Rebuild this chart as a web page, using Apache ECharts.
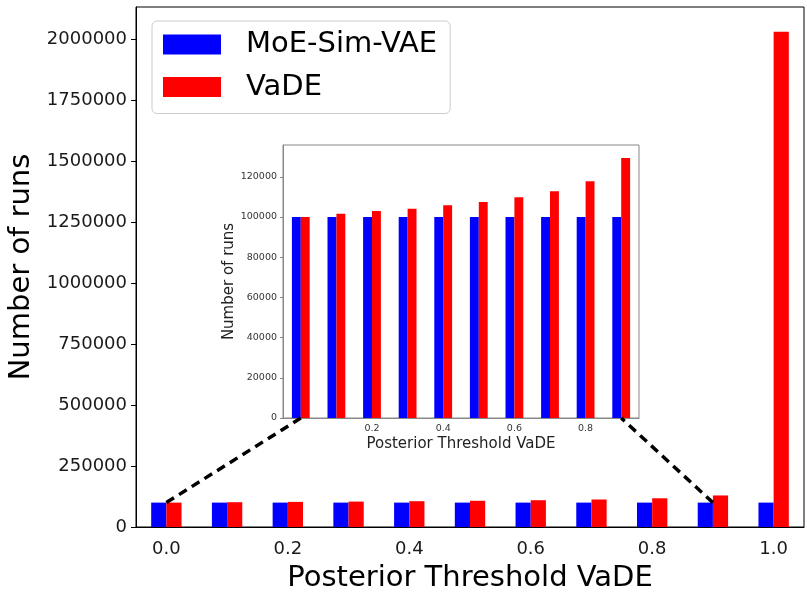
<!DOCTYPE html>
<html><head><meta charset="utf-8">
<script src="https://cdn.jsdelivr.net/npm/echarts@6/dist/echarts.min.js"></script>
<style>html,body{margin:0;padding:0;background:#fff}#c{width:807px;height:597px}</style>
</head><body><div id="c"></div>
<script>
// ---- data ----
const categories = ['0.0','0.1','0.2','0.3','0.4','0.5','0.6','0.7','0.8','0.9','1.0'];
const moeValues  = [100000,100000,100000,100000,100000,100000,100000,100000,100000,100000,100000];
const vadeValues = [100000,101660,102990,104150,105800,107460,109780,112760,117740,129350,2030000];
const mainXTickLabels = ['0.0','0.2','0.4','0.6','0.8','1.0'];
const mainYTicks = [0,250000,500000,750000,1000000,1250000,1500000,1750000,2000000];
const insetCategories = ['0.0','0.1','0.2','0.3','0.4','0.5','0.6','0.7','0.8','0.9'];
const insetMoe  = [100000,100000,100000,100000,100000,100000,100000,100000,100000,100000];
const insetVade = [100000,101660,102990,104150,105800,107460,109780,112760,117740,129350];
const insetXTickLabels = ['0.2','0.4','0.6','0.8'];
const insetYTicks = [0,20000,40000,60000,80000,100000,120000];

const FONT = 'DejaVu Sans';
const chart = echarts.init(document.getElementById('c'), null, {renderer:'canvas'});
const mainMax = Math.max(...vadeValues) * 1.05;
const insetMax = Math.max(...insetVade) * 1.05;
const plain = v => String(Math.round(v));

chart.setOption({
  animation:false,
  backgroundColor:'#fff',
  textStyle:{fontFamily:FONT},
  legend:{
    orient:'vertical', left:152, top:21,
    padding:[9,13,12,11], itemGap:13.5,
    itemWidth:58, itemHeight:20, icon:'rect',
    backgroundColor:'#fff', borderColor:'#cccccc', borderWidth:1, borderRadius:5,
    textStyle:{fontFamily:FONT, fontSize:29, color:'#000', lineHeight:29, padding:[0,0,0,20]},
    data:['MoE-Sim-VAE','VaDE']
  },
  grid:[
    {left:136, right:3, top:7, bottom:70, show:true, borderColor:'#000', borderWidth:1, backgroundColor:'transparent', outerBoundsMode:'none', containLabel:false},
    {left:283, right:168, top:145, bottom:179, show:true, borderColor:'#888', borderWidth:1, backgroundColor:'#fff', z:5, outerBoundsMode:'none', containLabel:false}
  ],
  xAxis:[
    {type:'category', gridIndex:0, data:categories, boundaryGap:true,
     axisLine:{lineStyle:{color:'#000', width:1}},
     axisTick:{alignWithLabel:true, length:5, lineStyle:{color:'#000'}, interval:(i,v)=>mainXTickLabels.includes(v)},
     axisLabel:{interval:(i,v)=>mainXTickLabels.includes(v), fontSize:18, color:'#1a1a1a', margin:13, fontFamily:FONT},
     name:'Posterior Threshold VaDE', nameLocation:'middle', nameGap:37,
     nameTextStyle:{fontSize:29, color:'#000', fontFamily:FONT}},
    {type:'category', gridIndex:1, data:insetCategories, boundaryGap:true,
     axisLine:{lineStyle:{color:'#888', width:1}},
     axisTick:{alignWithLabel:true, length:3, lineStyle:{color:'#888'}, interval:(i,v)=>insetXTickLabels.includes(v)},
     axisLabel:{interval:(i,v)=>insetXTickLabels.includes(v), fontSize:9.5, color:'#333', margin:6, fontFamily:FONT},
     name:'Posterior Threshold VaDE', nameLocation:'middle', nameGap:19,
     nameTextStyle:{fontSize:15, color:'#222', fontFamily:FONT}, z:6}
  ],
  yAxis:[
    {type:'value', gridIndex:0, min:0, max:mainMax,
     splitLine:{show:false},
     axisLine:{show:true, lineStyle:{color:'#000', width:1}},
     axisTick:{show:true, length:5, lineStyle:{color:'#000'}, customValues:mainYTicks},
     axisLabel:{fontSize:18, color:'#1a1a1a', margin:9, fontFamily:FONT, customValues:mainYTicks, formatter:plain},
     name:'Number of runs', nameLocation:'middle', nameGap:96,
     nameTextStyle:{fontSize:29, color:'#000', fontFamily:FONT}},
    {type:'value', gridIndex:1, min:0, max:insetMax,
     splitLine:{show:false},
     axisLine:{show:true, lineStyle:{color:'#888', width:1}},
     axisTick:{show:true, length:3, lineStyle:{color:'#888'}, customValues:insetYTicks},
     axisLabel:{fontSize:9.5, color:'#333', margin:6, fontFamily:FONT, customValues:insetYTicks, formatter:plain},
     name:'Number of runs', nameLocation:'middle', nameGap:41,
     nameTextStyle:{fontSize:15, color:'#222', fontFamily:FONT}, z:6}
  ],
  series:[
    {name:'MoE-Sim-VAE', type:'bar', xAxisIndex:0, yAxisIndex:0, data:moeValues, barWidth:'25%', barGap:'0%', itemStyle:{color:'#0000ff'}},
    {name:'VaDE', type:'bar', xAxisIndex:0, yAxisIndex:0, data:vadeValues, barWidth:'25%', barGap:'0%', itemStyle:{color:'#ff0000'}},
    {name:'MoE-Sim-VAE', type:'bar', xAxisIndex:1, yAxisIndex:1, data:insetMoe, barWidth:'25%', barGap:'0%', itemStyle:{color:'#0000ff'}, z:6},
    {name:'VaDE', type:'bar', xAxisIndex:1, yAxisIndex:1, data:insetVade, barWidth:'25%', barGap:'0%', itemStyle:{color:'#ff0000'}, z:6}
  ]
});

// connector dashed lines, from main bars (0.0 and 0.9) to inset baseline
const a1 = chart.convertToPixel({gridIndex:0}, [0, moeValues[0]]);
const b1 = chart.convertToPixel({gridIndex:1}, [0, 0]);
const a2 = chart.convertToPixel({gridIndex:0}, [9, moeValues[9]]);
const b2 = chart.convertToPixel({gridIndex:1}, [9, 0]);
const dash = {stroke:'#000', lineWidth:3.5, lineDash:[9,6]};
chart.setOption({graphic:[
  {type:'line', z:10, shape:{x1:a1[0], y1:a1[1], x2:b1[0], y2:b1[1]}, style:dash},
  {type:'line', z:10, shape:{x1:a2[0], y1:a2[1], x2:b2[0], y2:b2[1]}, style:dash}
]});
</script>
</body></html>
